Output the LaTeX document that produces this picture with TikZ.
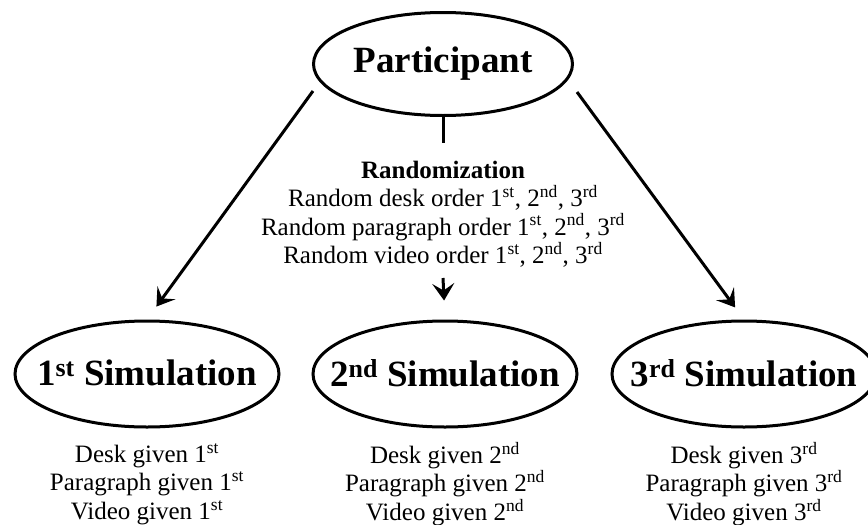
\documentclass[tikz,border=0pt]{standalone}
\usepackage{fontspec}
\setmainfont{Liberation Serif}
\usetikzlibrary{arrows.meta,shapes.geometric,shadows}

% keep the label from widening the ellipse
\newcommand\ovallabel[1]{\raisebox{2pt}{\makebox[0pt][c]{#1}}}

\tikzset{
  oval/.style={ellipse, draw=black, line width=3pt, fill=white, inner sep=0pt,
    minimum width=264pt, minimum height=106pt,
    font=\bfseries\fontsize{37}{40}\selectfont,
    drop shadow={opacity=0.25, shadow xshift=0.8pt, shadow yshift=-1.2pt}},
  body/.style={align=center, font=\fontsize{25}{28.5}\selectfont, inner sep=0pt},
  link/.style={line width=3pt, -{Stealth[length=17pt,width=22pt,inset=7pt]}},
  stem/.style={line width=3pt},
}

\begin{document}
\begin{tikzpicture}[x=1pt,y=-1pt]
  \useasboundingbox (0,0) rectangle (868,525);

  % top node and the three simulations
  \node[oval, minimum width=259pt, minimum height=103pt] (part) at (443,64) {\ovallabel{Participant}};
  \node[oval] (sim1) at (147,374) {\ovallabel{1\textsuperscript{st} Simulation}};
  \node[oval] (sim2) at (445,374) {\ovallabel{2\textsuperscript{nd} Simulation}};
  \node[oval] (sim3) at (744,374) {\ovallabel{3\textsuperscript{rd} Simulation}};

  % randomization block
  \node[body] (rand) at (443,214) {\textbf{Randomization}\\
    Random desk order 1\textsuperscript{st}, 2\textsuperscript{nd}, 3\textsuperscript{rd}\\
    Random paragraph order 1\textsuperscript{st}, 2\textsuperscript{nd}, 3\textsuperscript{rd}\\
    Random video order 1\textsuperscript{st}, 2\textsuperscript{nd}, 3\textsuperscript{rd}};

  % what each simulation gives
  \node[body] (g1) at (147,484) {Desk given 1\textsuperscript{st}\\Paragraph given 1\textsuperscript{st}\\Video given 1\textsuperscript{st}};
  \node[body] (g2) at (445,484) {Desk given 2\textsuperscript{nd}\\Paragraph given 2\textsuperscript{nd}\\Video given 2\textsuperscript{nd}};
  \node[body] (g3) at (744,484) {Desk given 3\textsuperscript{rd}\\Paragraph given 3\textsuperscript{rd}\\Video given 3\textsuperscript{rd}};

  % connectors
  \coordinate (ls) at (313,91);
  \coordinate (rs) at (577,92);
  \coordinate (stemend) at (443,143);
  \coordinate (ms) at (443,278);
  \draw[link, shorten >=16pt] (ls) -- (sim1.north);
  \draw[link, shorten >=15pt] (rs) -- (sim3.north);
  \draw[stem] (part.south) -- (stemend);
  \draw[link, shorten >=19pt] (ms) -- (sim2.north);
\end{tikzpicture}
\end{document}
